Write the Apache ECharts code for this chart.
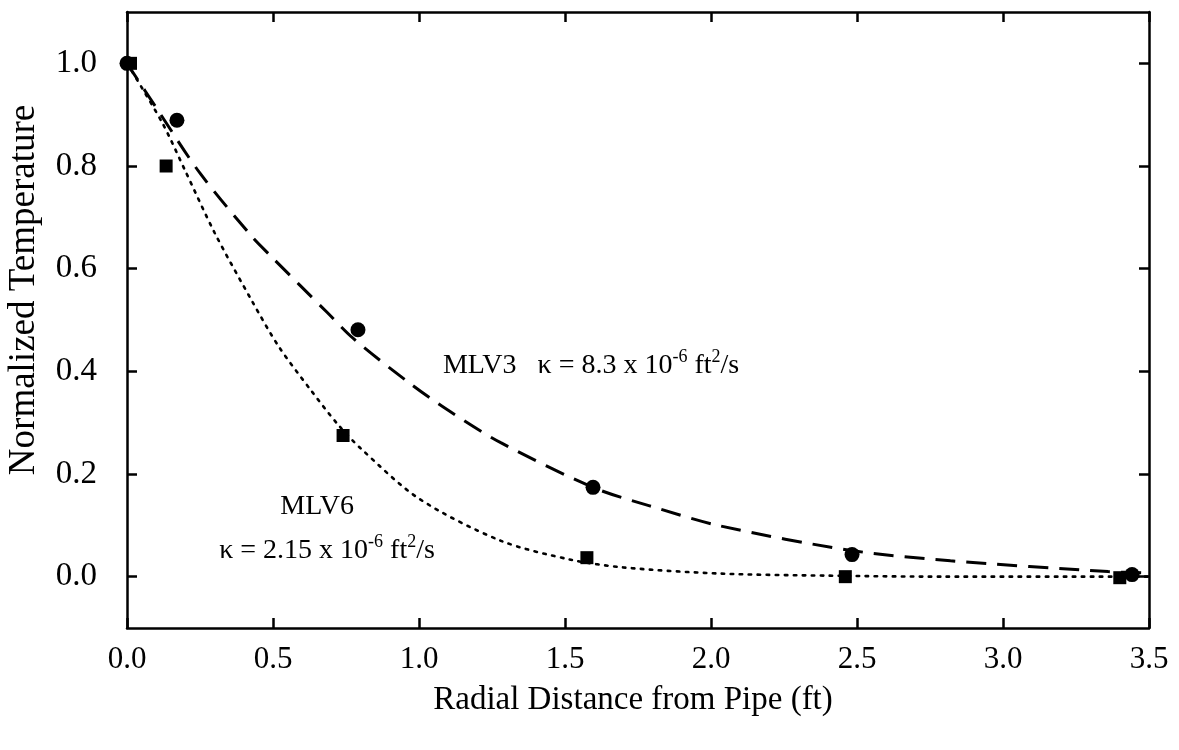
<!DOCTYPE html>
<html>
<head>
<meta charset="utf-8">
<script src="https://cdn.jsdelivr.net/npm/echarts@6/dist/echarts.min.js"></script>
<style>html,body{margin:0;padding:0;background:#fff}#c{width:1179px;height:750px}</style>
</head>
<body>
<div id="c"></div>
<script>
// Measured points
const mlv3X = [0.0, 0.171, 0.791, 1.596, 2.483, 3.442];
const mlv3Y = [1.0, 0.889, 0.481, 0.174, 0.043, 0.004];
const mlv6X = [0.012, 0.134, 0.74, 1.575, 2.46, 3.40];
const mlv6Y = [1.0, 0.80, 0.275, 0.037, 0.0, -0.002];
// Fitted curves
const fit3X = [0, 0.11, 0.25, 0.43, 0.49, 0.685, 0.775, 0.97, 1.1, 1.28, 1.6, 1.79, 2.03, 2.48, 2.82, 3.36, 3.5];
const fit3Y = [1.0, 0.905, 0.786, 0.661, 0.626, 0.515, 0.464, 0.376, 0.324, 0.261, 0.173, 0.138, 0.099, 0.051, 0.031, 0.010, 0.007];
const fit6X = [0, 0.12, 0.2, 0.3, 0.43, 0.52, 0.63, 0.72, 0.8, 1.0, 1.28, 1.52, 1.7, 2.03, 2.4, 2.8, 3.5];
const fit6Y = [1.0, 0.885, 0.79, 0.67, 0.535, 0.448, 0.363, 0.298, 0.25, 0.152, 0.07, 0.033, 0.018, 0.006, 0.002, 0.0, 0.0];
const yTicks = [0, 0.2, 0.4, 0.6, 0.8, 1.0];

const F = 'Liberation Serif';
const zip = (a, b) => a.map((v, i) => [v, b[i]]);
const chart = echarts.init(document.getElementById('c'));

const axisLine = {show: true, onZero: false, lineStyle: {color: '#000', width: 2.5}};
const tick = {show: true, inside: true, length: 10, lineStyle: {color: '#000', width: 2.5}};

chart.setOption({
  animation: false,
  backgroundColor: '#fff',
  grid: {left: 127, right: 30, top: 12, bottom: 122, containLabel: false},
  xAxis: [
    {type: 'value', min: 0, max: 3.5, interval: 0.5, position: 'bottom',
     axisLine, axisTick: tick, splitLine: {show: false},
     axisLabel: {color: '#000', fontFamily: F, fontSize: 31, margin: 16,
       formatter: v => v.toFixed(1)}},
    {type: 'value', min: 0, max: 3.5, interval: 0.5, position: 'top',
     axisLine, axisTick: tick, splitLine: {show: false}, axisLabel: {show: false}}
  ],
  yAxis: [
    {type: 'value', min: -0.1, max: 1.1, position: 'left',
     axisLine, axisTick: Object.assign({customValues: yTicks}, tick), splitLine: {show: false},
     axisLabel: {customValues: yTicks, color: '#000', fontFamily: F, fontSize: 33, margin: 30,
       formatter: v => v.toFixed(1)}},
    {type: 'value', min: -0.1, max: 1.1, position: 'right',
     axisLine, axisTick: Object.assign({customValues: yTicks}, tick), splitLine: {show: false},
     axisLabel: {show: false}}
  ],
  series: [
    {type: 'line', data: zip(fit3X, fit3Y), smooth: 0.3, showSymbol: false, symbol: 'none',
     lineStyle: {color: '#000', width: 3, type: [20, 11]}, z: 2},
    {type: 'line', data: zip(fit6X, fit6Y), smooth: 0.3, showSymbol: false, symbol: 'none',
     lineStyle: {color: '#000', width: 2.6, type: [2.5, 6.5], cap: 'round'}, z: 2},
    {type: 'scatter', data: zip(mlv3X, mlv3Y), symbol: 'circle', symbolSize: 15,
     itemStyle: {color: '#000', opacity: 1}, z: 3},
    {type: 'scatter', data: zip(mlv6X, mlv6Y), symbol: 'rect', symbolSize: 13,
     itemStyle: {color: '#000', opacity: 1}, z: 3}
  ]
});

const rich = {
  n: {fontFamily: F, fontSize: 28, color: '#000', lineHeight: 34},
  s: {fontFamily: F, fontSize: 18, color: '#000', lineHeight: 20, verticalAlign: 'top'}
};
function txt(coord, str, align) {
  const p = chart.convertToPixel({gridIndex: 0}, coord);
  return {type: 'text', x: p[0], y: p[1], z: 10,
    style: {text: str, rich, align, verticalAlign: 'middle', fill: '#000'}};
}
chart.setOption({
  graphic: [
    txt([1.082, 0.411], '{n|MLV3   κ = 8.3 x 10}{s|-6}{n| ft}{s|2}{n|/s}', 'left'),
    txt([0.651, 0.136], '{n|MLV6}', 'center'),
    txt([0.685, 0.051], '{n|κ = 2.15 x 10}{s|-6}{n| ft}{s|2}{n|/s}', 'center'),
    {type: 'text', x: 633, y: 700, style: {text: 'Radial Distance from Pipe (ft)', fontFamily: F, fontSize: 33, fill: '#000', align: 'center', verticalAlign: 'middle'}},
    {type: 'text', x: 24, y: 290, rotation: Math.PI / 2, style: {text: 'Normalized Temperature', fontFamily: F, fontSize: 37, fill: '#000', align: 'center', verticalAlign: 'middle'}}
  ]
});
</script>
</body>
</html>
